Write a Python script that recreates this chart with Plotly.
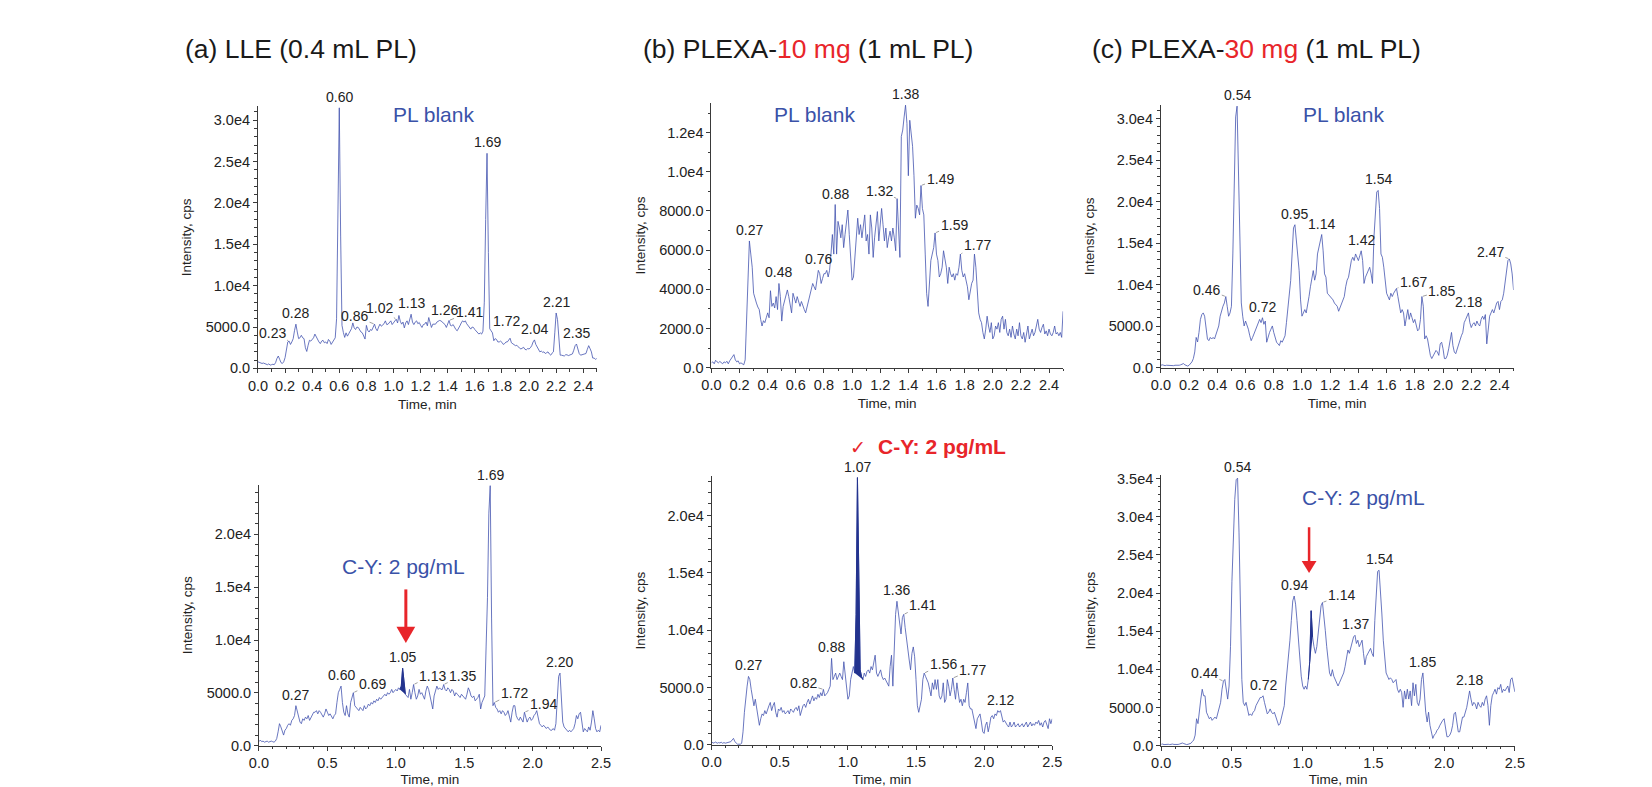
import plotly.graph_objects as go

W, H = 1652, 787

# ---------------- data (intensity in cps, sampled every 0.01 min from 0.00 to 2.50) ----------------
a_blank = [
    800, 700, 650, 600, 650, 550, 500, 450, 550, 400,
    450, 500, 450, 700, 1200, 1500, 1100, 700, 600, 800,
    1300, 2200, 3200, 3300, 2900, 3200, 3600, 4600, 5350, 4400,
    3600, 3700, 4000, 3700, 3600, 2500, 2050, 2800, 3400, 3300,
    3500, 3700, 4150, 3800, 3400, 3200, 3000, 3300, 3400, 3100,
    3200, 3000, 3500, 3300, 2900, 3200, 3500, 3700, 6000, 18000,
    31500, 16000, 5200, 4350, 3750, 4300, 3900, 4200, 4500, 4800,
    5500, 4900, 4700, 5000, 4950, 4600, 4400, 4300, 3950, 3550,
    5200, 4600, 4400, 4700, 4600, 4900, 5350, 4800, 4550, 5000,
    5350, 5100, 5200, 5400, 5750, 5300, 5350, 5600, 5750, 5300,
    5550, 5800, 5950, 5500, 6400, 5700, 5350, 5600, 4900, 5500,
    5750, 5300, 5900, 6550, 5600, 5300, 5600, 5750, 5400, 5550,
    5200, 4950, 5300, 5350, 5600, 5150, 6150, 5400, 4950, 5350,
    5350, 5350, 5600, 5750, 5800, 5750, 5600, 5550, 5300, 4950,
    5400, 5800, 5200, 5150, 5300, 4950, 4700, 4550, 4800, 5150,
    5500, 5750, 5600, 5750, 5400, 5150, 4900, 4750, 5000, 4950,
    4700, 4550, 4300, 4150, 4300, 4150, 4500, 8000, 18000, 26000,
    14000, 4800, 4550, 4300, 3350, 3600, 3500, 3200, 3200, 3300,
    3150, 2900, 3000, 3200, 3200, 3400, 3650, 3100, 3000, 2900,
    2750, 2800, 2550, 2450, 2350, 2500, 2550, 2300, 2250, 2400,
    2350, 2500, 2750, 3200, 3450, 2900, 2550, 2200, 2000, 2100,
    1950, 2000, 1800, 1900, 2000, 1750, 1600, 1850, 2000, 4300,
    6700, 5900, 3500, 1600, 1600, 1550, 1500, 1650, 1650, 1550,
    1600, 1700, 1750, 2200, 2750, 2950, 2300, 1800, 1600, 1650,
    1700, 1750, 1800, 2300, 2750, 2400, 2000, 1250, 1250, 1100,
    1200]

b_blank = [
    250, 300, 200, 380, 300, 250, 320, 280, 200, 300,
    250, 330, 200, 350, 450, 550, 670, 400, 300, 350,
    200, 250, 180, 150, 400, 2470, 4470, 6470, 5800, 5130,
    3800, 3500, 3300, 3100, 2970, 2470, 2130, 2400, 2300, 2550,
    2800, 2550, 3930, 3130, 3300, 3050, 3630, 2970, 4300, 3630,
    2380, 3130, 3380, 3630, 3970, 3630, 3130, 2800, 3800, 3470,
    3300, 3630, 3300, 3130, 3380, 3130, 2970, 2800, 3130, 3470,
    3800, 4050, 4300, 4130, 3970, 4470, 4970, 4800, 4300, 4550,
    4800, 4800, 4970, 4630, 4970, 5800, 6800, 5800, 8330, 5800,
    7470, 7130, 6630, 7300, 6130, 6800, 7630, 8050, 6800, 5470,
    4470, 4630, 5800, 6800, 7630, 6800, 7300, 6630, 7130, 7800,
    6470, 6800, 5800, 7800, 7130, 5630, 6630, 7470, 7970, 6470,
    7130, 8130, 7300, 6470, 7130, 6130, 6630, 6970, 6470, 7130,
    6630, 5970, 8630, 7130, 5630, 11800, 12130, 12800, 13400, 12470,
    9800, 12630, 11970, 11300, 9800, 7630, 8300, 8130, 7800, 9300,
    8130, 7800, 5800, 3800, 3130, 4470, 5470, 5800, 6130, 6880,
    5800, 5470, 4630, 4800, 5130, 5970, 5630, 5130, 4300, 5130,
    4800, 4630, 4800, 4470, 4800, 4720, 5130, 5800, 4970, 4630,
    4800, 4470, 4130, 3470, 3970, 4300, 4470, 5800, 5130, 3630,
    2800, 2470, 2300, 1800, 1470, 1970, 2630, 2130, 1800, 2300,
    1470, 1630, 2130, 1970, 2300, 1800, 2470, 2630, 1970, 2470,
    1800, 1630, 1970, 1550, 2130, 1720, 1470, 1970, 1630, 2300,
    1630, 1470, 1800, 1300, 1630, 2130, 1470, 1800, 1970, 1630,
    1800, 2130, 2470, 1970, 1800, 2050, 2220, 1720, 1880, 1630,
    1970, 1720, 1630, 1800, 2130, 1720, 1800, 1630, 1800, 1550,
    2880]

c_blank = [
    300, 350, 300, 250, 300, 280, 250, 300, 270, 250,
    300, 280, 260, 300, 350, 450, 500, 350, 250, 200,
    300, 500, 700, 1100, 1900, 3650, 3100, 4250, 5800, 6400,
    6600, 6200, 4640, 3460, 3260, 3650, 3460, 3650, 3460, 4050,
    4440, 5030, 6200, 7000, 7400, 7800, 8570, 7400, 6200, 6600,
    7400, 13700, 23500, 30200, 31500, 23500, 13700, 7800, 6200, 5030,
    5620, 5230, 4640, 3850, 3260, 3650, 4050, 4440, 4840, 5230,
    5820, 5430, 6020, 5230, 5620, 3070, 3850, 4250, 4640, 5030,
    4250, 3650, 3070, 2870, 2670, 3260, 3070, 3460, 3850, 5430,
    7400, 8970, 10500, 13700, 16830, 17220, 15250, 12900, 11700, 8170,
    6210, 6600, 7000, 6600, 7400, 8570, 9750, 10540, 11700, 10540,
    11300, 13700, 14470, 14860, 16040, 14080, 11300, 10900, 8970, 8770,
    8570, 8370, 8170, 7790, 7600, 7400, 6800, 7200, 7790, 8170,
    8570, 9750, 10540, 10900, 12100, 12900, 13300, 12900, 13700, 13300,
    12900, 13500, 14080, 12900, 10150, 10900, 11300, 11700, 12100, 11300,
    10150, 15650, 19170, 21150, 21350, 19170, 13700, 13300, 12100, 10150,
    8970, 8570, 8170, 8970, 8570, 8970, 9360, 9550, 8570, 7400,
    6600, 7000, 6600, 5030, 5820, 7000, 5820, 6600, 6020, 5430,
    5820, 5030, 4440, 4640, 5820, 8570, 7400, 3460, 3850, 3460,
    2280, 1490, 1100, 1490, 1890, 2080, 1890, 1490, 2870, 3070,
    2280, 1100, 1100, 1490, 2280, 3460, 4250, 2670, 1890, 1690,
    2280, 2670, 3460, 3850, 4250, 5430, 5800, 6200, 6600, 5430,
    4840, 5230, 5430, 5030, 5620, 5230, 5030, 5820, 6200, 5820,
    6400, 2870, 4250, 6200, 6600, 7000, 6600, 7400, 7790, 7990,
    7000, 7990, 8170, 8970, 10150, 11300, 12900, 13100, 12500, 11300,
    9360]

a_spiked = [
    400, 550, 400, 450, 350, 400, 450, 350, 400, 450,
    400, 350, 450, 700, 1330, 2100, 1800, 1330, 1020, 1480,
    1640, 1950, 2100, 1950, 2410, 2560, 2870, 3800, 3180, 2560,
    2250, 2100, 2560, 2410, 2720, 2560, 2870, 2410, 2720, 3030,
    3180, 3180, 3330, 3030, 3330, 3180, 2870, 2720, 3030, 3490,
    3180, 2870, 3030, 2720, 2560, 2870, 3030, 4100, 5030, 5340,
    5650, 4100, 3180, 2870, 3800, 3030, 2720, 4100, 4720, 5030,
    3800, 3640, 3490, 3330, 3640, 3490, 3330, 3800, 3490, 3640,
    3950, 3800, 4100, 3950, 4260, 4100, 4410, 4260, 4570, 4410,
    4570, 4720, 4880, 4720, 5030, 4880, 5030, 5340, 5030, 5190,
    5340, 5190, 5490, 5340, 5650, 7340, 6170, 4880, 4720, 4570,
    5340, 4410, 5030, 5800, 5030, 4410, 4720, 5340, 4880, 5030,
    4720, 4410, 5190, 5650, 5340, 4720, 3800, 3490, 4720, 5340,
    5650, 5340, 5490, 5340, 5340, 5800, 5340, 5190, 5490, 5340,
    5030, 5340, 5190, 4720, 5030, 4880, 4720, 4570, 4880, 4720,
    4570, 4410, 4880, 5490, 5190, 4720, 4570, 4720, 4260, 4410,
    4570, 4880, 3490, 4100, 4410, 4720, 9350, 14000, 22000, 24600,
    12000, 3800, 4100, 3640, 3490, 3180, 3330, 3030, 3330, 3180,
    2870, 3030, 3330, 2870, 2250, 3180, 3800, 3800, 2870, 2560,
    2410, 2720, 2410, 2250, 3180, 2560, 2250, 2560, 2720, 2410,
    2560, 2870, 3030, 3330, 2560, 2100, 1950, 1790, 1950, 1790,
    1640, 1790, 1640, 1480, 1480, 1640, 1480, 2100, 4410, 6570,
    6880, 4720, 2250, 1790, 1640, 1480, 1330, 1480, 1330, 1480,
    1640, 2100, 2870, 2560, 3030, 3180, 1950, 1330, 1640, 1480,
    1330, 1790, 1480, 2250, 3330, 2560, 1640, 1330, 1480, 1330,
    1950]

b_spiked = [
    280, 150, 200, 250, 140, 200, 170, 230, 140, 200,
    150, 170, 230, 200, 280, 430, 570, 280, 140, 60,
    60, 60, 140, 1140, 2840, 4270, 5120, 5970, 5690, 4840,
    3980, 3410, 3980, 3130, 2280, 1710, 2280, 2700, 2560, 2990,
    2700, 3130, 3410, 3700, 2990, 3410, 3700, 2840, 2420, 3130,
    2990, 3270, 2840, 2990, 2700, 2840, 2990, 2700, 3130, 2990,
    2840, 3130, 3270, 2990, 3410, 2560, 2990, 3410, 3560, 3270,
    3700, 3980, 3560, 3980, 4270, 3840, 4130, 3980, 4410, 4130,
    4550, 4270, 4840, 4270, 4410, 4550, 4840, 5120, 7540, 5690,
    5970, 6260, 5690, 5970, 6260, 5970, 5690, 7250, 5970, 4840,
    3980, 4270, 5690, 6260, 6830, 6260, 11380, 23300, 14200, 6540,
    5970, 5690, 6260, 5970, 6400, 6540, 6260, 6830, 6540, 7110,
    7820, 6260, 5970, 6260, 6540, 5970, 5690, 5830, 5550, 5260,
    5120, 6830, 7820, 5120, 7970, 11380, 12520, 11380, 10810, 9670,
    11100, 11380, 10240, 9100, 7970, 7400, 6540, 7970, 8540, 7680,
    5690, 3410, 2840, 3410, 3980, 5690, 6260, 5970, 5690, 5410,
    4840, 4270, 5410, 4840, 5690, 4840, 5690, 4270, 3980, 4270,
    5410, 3700, 3980, 5690, 5120, 4270, 4840, 5830, 4840, 3980,
    5410, 4550, 3700, 3980, 3410, 3980, 3700, 4550, 5400, 3410,
    3130, 3130, 2560, 1990, 1420, 2280, 2560, 2700, 1990, 1140,
    1000, 1710, 1990, 1140, 1710, 2420, 2560, 2280, 2700, 2560,
    2990, 2840, 2990, 2420, 1990, 2130, 1850, 1710, 1560, 1990,
    1560, 1710, 1990, 1560, 1710, 1850, 1560, 1710, 1850, 1560,
    1760, 1990, 1560, 1850, 1990, 1650, 1850, 1710, 1990, 1850,
    2130, 1710, 1930, 1560, 1990, 2130, 1760, 1420, 2280, 1850,
    2280]

c_spiked = [
    170, 200, 130, 170, 150, 170, 130, 170, 200, 150,
    130, 170, 150, 200, 300, 340, 260, 170, 130, 170,
    210, 300, 520, 730, 1370, 3520, 2880, 4810, 6100, 7390,
    6530, 6530, 4380, 3950, 3520, 3740, 3310, 3520, 3740, 3520,
    4160, 4810, 5670, 7390, 8460, 8670, 7390, 6100, 7820, 12970,
    21560, 28000, 32290, 34870, 35080, 28000, 17260, 8670, 5670, 5240,
    5670, 4810, 3950, 4160, 3950, 4380, 4590, 5240, 5670, 6100,
    6310, 6310, 6530, 5670, 5030, 4160, 4380, 4810, 4380, 4160,
    4380, 3740, 3090, 2660, 2880, 3740, 4160, 5240, 7820, 9530,
    11250, 13820, 16400, 18980, 19620, 18550, 16400, 13820, 11250, 9100,
    7820, 7390, 7820, 7390, 8670, 11000, 17690, 14260, 12970, 12100,
    12970, 15110, 17260, 18330, 18770, 17260, 15110, 12970, 11250, 9530,
    9100, 9960, 9100, 8670, 8240, 7820, 8240, 8670, 9100, 9530,
    10390, 11680, 12540, 12100, 12970, 13820, 14260, 14470, 13390, 13820,
    12970, 13390, 13820, 12100, 10600, 11680, 12100, 12540, 12750, 12100,
    11680, 16400, 20700, 22840, 23000, 20700, 17260, 13820, 11250, 9530,
    9100, 8670, 8890, 8670, 8240, 8460, 8670, 7390, 6960, 7390,
    6960, 5020, 7170, 6100, 7390, 6100, 7170, 5240, 8240, 6530,
    8030, 5670, 5240, 6100, 8670, 9530, 6100, 4380, 3090, 4380,
    2660, 1800, 940, 1370, 1590, 2020, 2230, 2660, 3090, 3310,
    3520, 2230, 1160, 1160, 1370, 1800, 2660, 4160, 4380, 3090,
    1800, 1800, 3090, 3740, 3740, 4380, 5020, 6100, 7170, 6100,
    5240, 5670, 5450, 4810, 5670, 5240, 5020, 5670, 5240, 6100,
    6530, 5240, 2660, 5240, 6530, 6960, 7390, 6750, 7600, 7390,
    8030, 6960, 7390, 7170, 7600, 7820, 6960, 8670, 8890, 7820,
    7040]

time_min = [round(i * 0.01, 2) for i in range(len(a_blank))]

# peak labels: (text, retention time, leader offset x px, leader offset y px) ; None -> label right above peak
a_blank_labels = [("0.23", 0.23, -17, -8), ("0.28", 0.28, None, None), ("0.60", 0.60, None, None),
                  ("0.86", 0.86, -20, -8), ("1.02", 1.02, -17, -11), ("1.13", 1.13, None, None),
                  ("1.26", 1.26, 16, -8), ("1.41", 1.41, 20, -8), ("1.69", 1.69, None, None),
                  ("1.72", 1.72, 15, -10), ("2.04", 2.04, None, None), ("2.21", 2.20, None, None),
                  ("2.35", 2.35, None, None)]
b_blank_labels = [("0.27", 0.27, None, None), ("0.48", 0.48, None, None), ("0.76", 0.76, None, None),
                  ("0.88", 0.88, None, None), ("1.32", 1.32, -18, -8), ("1.38", 1.38, None, None),
                  ("1.49", 1.49, 19, -7), ("1.59", 1.59, 19, -8), ("1.77", 1.77, 17, -9)]
c_blank_labels = [("0.46", 0.46, -19, -7), ("0.54", 0.54, None, None), ("0.72", 0.72, None, None),
                  ("0.95", 0.95, None, None), ("1.14", 1.14, None, None), ("1.42", 1.42, None, None),
                  ("1.54", 1.54, None, None), ("1.67", 1.67, 17, -6), ("1.85", 1.85, 20, -6),
                  ("2.18", 2.18, None, None), ("2.47", 2.47, -19, -7)]
a_spiked_labels = [("0.27", 0.27, None, None), ("0.60", 0.60, None, None), ("0.69", 0.69, 19, -9),
                   ("1.05", 1.05, None, None), ("1.13", 1.13, 19, -9), ("1.35", 1.35, 19, -9),
                   ("1.69", 1.69, None, None), ("1.72", 1.72, 20, -10), ("1.94", 1.94, 19, -8),
                   ("2.20", 2.20, None, None)]
b_spiked_labels = [("0.27", 0.27, None, None), ("0.82", 0.82, -20, -6), ("0.88", 0.88, None, None),
                   ("1.07", 1.07, None, None), ("1.36", 1.36, None, None), ("1.41", 1.41, 19, -9),
                   ("1.56", 1.56, 19, -9), ("1.77", 1.77, 20, -8), ("2.12", 2.12, None, None)]
c_spiked_labels = [("0.44", 0.44, -19, -8), ("0.54", 0.54, None, None), ("0.72", 0.72, None, None),
                   ("0.94", 0.94, None, None), ("1.14", 1.14, 19, -7), ("1.37", 1.37, None, None),
                   ("1.54", 1.54, None, None), ("1.85", 1.85, None, None), ("2.18", 2.18, None, None)]

top_xticks = [0.0, 0.2, 0.4, 0.6, 0.8, 1.0, 1.2, 1.4, 1.6, 1.8, 2.0, 2.2, 2.4]
bottom_xticks = [0.0, 0.5, 1.0, 1.5, 2.0, 2.5]
yticks_30k = [0, 5000, 10000, 15000, 20000, 25000, 30000]
yticks_30k_text = ["0.0", "5000.0", "1.0e4", "1.5e4", "2.0e4", "2.5e4", "3.0e4"]
yticks_12k = [0, 2000, 4000, 6000, 8000, 10000, 12000]
yticks_12k_text = ["0.0", "2000.0", "4000.0", "6000.0", "8000.0", "1.0e4", "1.2e4"]
yticks_20k = [0, 5000, 10000, 15000, 20000]
yticks_20k_text = ["0.0", "5000.0", "1.0e4", "1.5e4", "2.0e4"]
yticks_35k = [0, 5000, 10000, 15000, 20000, 25000, 30000, 35000]
yticks_35k_text = ["0.0", "5000.0", "1.0e4", "1.5e4", "2.0e4", "2.5e4", "3.0e4", "3.5e4"]

# ---------------- layout helpers ----------------
def fx(p):
    return p / W

def fy(p):
    return 1 - p / H

FONT = "Liberation Sans, Arial, sans-serif"
LINE = "#4454b0"
FILL = "#23338e"
BLUE_TXT = "#3a52a8"
RED = "#e8252a"
AX = "#3a3a3a"
TICK_SIZE = 14.5
LABEL_SIZE = 14

panels = [
    dict(y=a_blank, labels=a_blank_labels, dx=(251, 594), dy=(103, 370), yr=31700,
         yt=yticks_30k, ytt=yticks_30k_text, xt=top_xticks, fill=None),
    dict(y=b_blank, labels=b_blank_labels, dx=(710, 1066), dy=(100, 369.3), yr=13500,
         yt=yticks_12k, ytt=yticks_12k_text, xt=top_xticks, fill=None),
    dict(y=c_blank, labels=c_blank_labels, dx=(1165, 1522), dy=(101.7, 369.3), yr=31650,
         yt=yticks_30k, ytt=yticks_30k_text, xt=top_xticks, fill=None),
    dict(y=a_spiked, labels=a_spiked_labels, dx=(252, 598.3), dy=(488.3, 754.3), yr=24700,
         yt=yticks_20k, ytt=yticks_20k_text, xt=bottom_xticks, fill=(103, 107)),
    dict(y=b_spiked, labels=b_spiked_labels, dx=(710.3, 1055), dy=(480, 753.3), yr=23400,
         yt=yticks_20k, ytt=yticks_20k_text, xt=bottom_xticks, fill=(105, 111)),
    dict(y=c_spiked, labels=c_spiked_labels, dx=(1165.3, 1523.3), dy=(479, 754), yr=35430,
         yt=yticks_35k, ytt=yticks_35k_text, xt=bottom_xticks, fill=(104, 107)),
]

fig = go.Figure()
annotations = []
layout_axes = {}

for i, p in enumerate(panels, start=1):
    xa = "x" if i == 1 else f"x{i}"
    ya = "y" if i == 1 else f"y{i}"
    fig.add_trace(go.Scatter(x=time_min, y=p["y"], mode="lines",
                             line=dict(color=LINE, width=0.8), xaxis=xa, yaxis=ya,
                             showlegend=False, hoverinfo="skip"))
    if p["fill"]:
        i0, i1 = p["fill"]
        fig.add_trace(go.Scatter(x=time_min[i0:i1 + 1], y=p["y"][i0:i1 + 1], mode="lines",
                                 fill="toself", fillcolor=FILL, line=dict(color=FILL, width=1),
                                 xaxis=xa, yaxis=ya, showlegend=False, hoverinfo="skip"))
    tfont = dict(family=FONT, size=TICK_SIZE, color="#222")
    layout_axes["xaxis" if i == 1 else f"xaxis{i}"] = dict(
        domain=[fx(p["dx"][0]), fx(p["dx"][1])], anchor=ya, range=[0, 2.5],
        tickmode="array", tickvals=p["xt"], ticktext=[f"{v:.1f}" for v in p["xt"]],
        ticks="outside", ticklen=4, tickcolor=AX, showline=True, linecolor=AX, linewidth=1,
        showgrid=False, zeroline=False, tickfont=tfont,
        minor=dict(ticks="outside", ticklen=2.5, tickcolor=AX, tickmode="linear", tick0=0, dtick=0.1,
                   showgrid=False),
        title=dict(text="Time, min", font=dict(family=FONT, size=13.5, color="#222"), standoff=6))
    layout_axes["yaxis" if i == 1 else f"yaxis{i}"] = dict(
        domain=[fy(p["dy"][1]), fy(p["dy"][0])], anchor=xa, range=[0, p["yr"]],
        tickmode="array", tickvals=p["yt"], ticktext=p["ytt"],
        ticks="outside", ticklen=4, tickcolor=AX, showline=True, linecolor=AX, linewidth=1,
        showgrid=False, zeroline=False, tickfont=tfont,
        minor=dict(ticks="outside", ticklen=2.5, tickcolor=AX, tickmode="linear", tick0=0, dtick=1000,
                   showgrid=False),
        title=dict(text="Intensity, cps", font=dict(family=FONT, size=13.5, color="#222"), standoff=10))
    for text, t, ax, ay in p["labels"]:
        v = p["y"][round(t * 100)]
        if ax is None:
            annotations.append(dict(x=t, y=v, xref=xa, yref=ya, text=text, showarrow=False,
                                    yanchor="bottom", yshift=1,
                                    font=dict(family=FONT, size=LABEL_SIZE, color="#222")))
        else:
            annotations.append(dict(x=t, y=v, xref=xa, yref=ya, text=text, showarrow=True,
                                    ax=ax, ay=ay, arrowhead=0, arrowwidth=0.7, arrowcolor="#777",
                                    standoff=1, font=dict(family=FONT, size=LABEL_SIZE, color="#222")))

# panel titles
titles = [
    (175, "(a) LLE (0.4 mL PL)"),
    (639, "(b) PLEXA-<span style='color:#e8252a'>10 mg</span> (1 mL PL)"),
    (1093, "(c) PLEXA-<span style='color:#e8252a'>30 mg</span> (1 mL PL)"),
]
for x0, txt in titles:
    annotations.append(dict(x=fx(x0), y=fy(45), xref="paper", yref="paper", text=txt, showarrow=False,
                            xanchor="left", yanchor="middle", font=dict(family=FONT, size=26.5, color="#1a1a1a")))

# sample descriptions
for xc, yc in [(429, 111.7), (814.7, 111.7), (1350, 111.7)]:
    annotations.append(dict(x=fx(xc), y=fy(yc), xref="paper", yref="paper", text="PL blank",
                            showarrow=False, xanchor="center", yanchor="middle",
                            font=dict(family=FONT, size=21, color=BLUE_TXT)))
for xc, yc in [(398, 571.7), (1370, 501)]:
    annotations.append(dict(x=fx(xc), y=fy(yc), xref="paper", yref="paper", text="C-Y: 2 pg/mL",
                            showarrow=False, xanchor="center", yanchor="middle",
                            font=dict(family=FONT, size=21, color=BLUE_TXT)))
annotations.append(dict(x=fx(943), y=fy(449.3), xref="paper", yref="paper", text="<b>C-Y: 2 pg/mL</b>",
                        showarrow=False, xanchor="center", yanchor="middle",
                        font=dict(family=FONT, size=21, color=RED)))
annotations.append(dict(x=fx(858.5), y=fy(450.5), xref="paper", yref="paper", text="\u2713",
                        showarrow=False, xanchor="center", yanchor="middle",
                        font=dict(family="DejaVu Sans", size=19, color=RED)))

# red arrows
shapes = []
def red_arrow(xc, y_top, y_head, y_tip, half_w, shaft_w):
    shapes.append(dict(type="line", xref="paper", yref="paper", x0=fx(xc), x1=fx(xc),
                       y0=fy(y_top), y1=fy(y_head + 1), line=dict(color=RED, width=shaft_w)))
    path = (f"M {fx(xc - half_w)} {fy(y_head)} L {fx(xc + half_w)} {fy(y_head)} "
            f"L {fx(xc)} {fy(y_tip)} Z")
    shapes.append(dict(type="path", xref="paper", yref="paper", path=path,
                       fillcolor=RED, line=dict(color=RED, width=0)))

red_arrow(400.7, 595, 633, 649.5, 9.5, 3)
red_arrow(1315, 531.7, 566, 578.3, 7.5, 2.5)

fig.update_layout(width=W, height=H, margin=dict(l=0, r=0, t=0, b=0),
                  paper_bgcolor="white", plot_bgcolor="white",
                  annotations=annotations, shapes=shapes, showlegend=False,
                  font=dict(family=FONT), **layout_axes)

fig.write_html("out.html")
